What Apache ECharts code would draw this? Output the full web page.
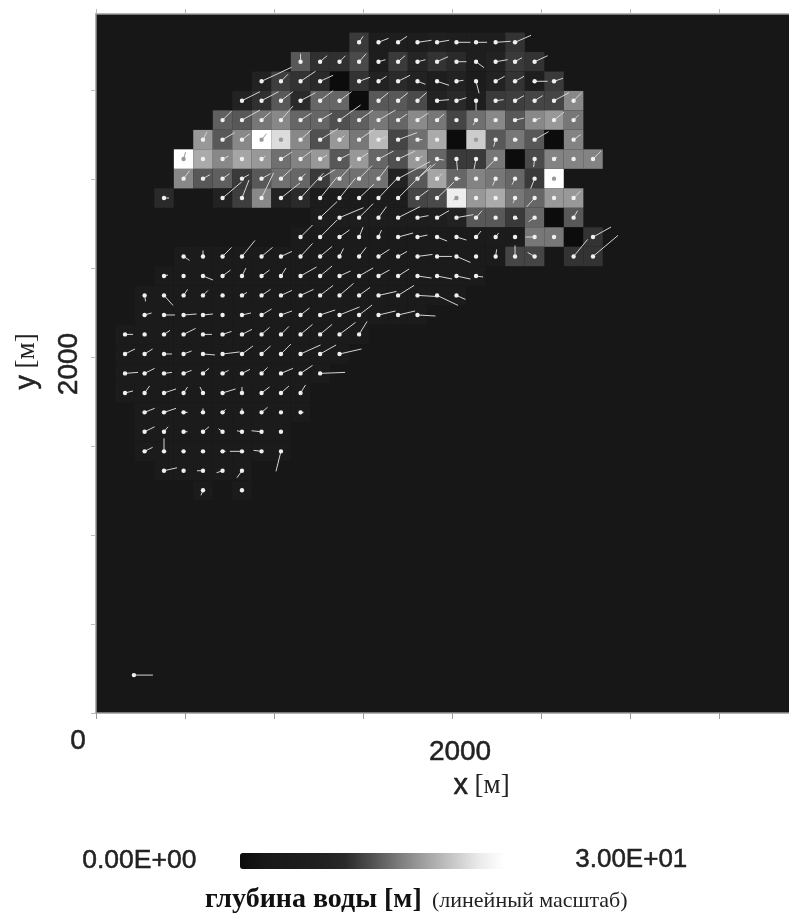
<!DOCTYPE html>
<html><head><meta charset="utf-8">
<style>html,body{margin:0;padding:0;background:#fff}#c{width:789px;height:913px;filter:blur(0.45px)}</style>
<script src="https://cdn.jsdelivr.net/npm/echarts@6/dist/echarts.min.js"></script>
</head><body><div id="c"></div>
<script>
const columnX=[163,273,382,492,601,711,820,930,1039,1149,1259,1368,1478,1587,1697,1806,1916,2025,2135,2245,2354,2464,2573,2683,2792];
const rowY=[3768,3659,3549,3440,3331,3221,3112,3002,2893,2783,2674,2565,2455,2346,2236,2127,2017,1908,1798,1689,1580,1470,1361,1251];
const firstColumn=[12,9,7,6,5,4,3,3,2,10,9,3,2,1,1,0,0,0,0,1,1,1,2,4];
const depthRows=[
[13.3,7,8,7,9,8,8,8,12.7],
[15.6,12.5,12.5,14.5,7,13.3,10.5,12.7,12,7.5,9.6,13.3,12.7],
[9.6,13.6,12.7,12,0,12.7,9.6,12,9.6,7.5,9.6,6.5,9.6,12.7,7.5,13.3],
[9.6,12.5,15.6,12,16.6,16.6,0,15.6,15.6,14.5,9.6,12,7.5,13.3,13.6,14.1,14.1,19.1],
[16.1,15.6,17.8,19.1,16.6,16.6,15,16.1,17.8,16.6,19.3,17.8,14.1,17.3,19.1,15.6,19.1,20.4,17.8],
[20.4,15.6,19.1,30,26,19.1,15,20.4,17.8,23.1,14.1,17.3,21.8,0,24.7,15.6,17.8,15.6,0,18.7],
[30,21.8,19.1,21.4,20.4,17.3,18.7,20.4,15.6,20.4,16.6,15,20.4,16.6,13.3,13.3,17.8,0,14.5,18.7,18.7,18.7],
[19.1,15.6,16.1,13.3,15.6,17.3,16.6,13.3,17.3,17.3,17.3,9.6,15.6,21.4,16.6,18.7,17.8,16.6,13.3,30],
[12,null,null,9.6,13.6,19.1,9.6,12,6.5,6.5,6.5,6.5,6.5,14.1,14.5,27.8,20.4,21.8,17.8,16.6,20.4,20.4],
[7,7,7,7,7,7,7.5,9.6,15.6,15.6,13.3,16.6,0,15.6],
[6,6,6,6,6,6,6,6,6,6,6.5,6.5,17.8,17.8,0,12.7],
[6,6,6,6,6,6,6,6,6,6,6,6,6,6,6,6,6,14.1,14.1,null,12.7,12.7],
[6,6,6,6,6,6,6,6,6,6,6,6,6,6,6,6,6],
[6,6,6,6,6,6,6,6,6,6,6,6,6,6,6,6,6],
[6,6,6,6,6,6,6,6,6,6,6,6,6,6,6],
[6,6,6,6,6,6,6,6,6,6,6,6,6],
[6,6,6,6,6,6,6,6,6,6,6,6],
[6,6,6,6,6,6,6,6,6,6,6],
[6,6,6,6,6,6,6,6,6,6],
[6,6,6,6,6,6,6,6,6],
[6,6,6,6,6,6,6,6],
[6,6,6,6,6,6,6,6],
[6,6,6,6,6],
[6,null,6]
];
const uRows=[
[4,10,9,14,12,14,11,15,16],
[0,7,6,7,7,7,8,11,10,8,12,7,13],
[30,7,15,13,null,11,8,12,8,12,7,3,9,9,13,9],
[18,17,12,15,13,12,null,10,10,9,12,10,0,8,9,8,15,8],
[9,18,9,12,11,12,21,14,17,9,11,7,0,-3,0,9,6,10,5],
[4,12,8,5,1,11,18,5,16,8,19,5,0,null,1,-2,3,14,null,7],
[2,1,6,1,4,11,11,7,10,9,15,17,5,7,1,-2,-10,null,-1,3,0,8],
[6,7,7,7,9,11,5,15,12,13,10,32,18,5,4,0,-3,-3,-4,0],
[5,null,null,19,7,12,19,23,17,16,15,19,33,11,17,-3,0,0,-2,-8,0,7],
[17,24,14,8,22,11,12,17,6,0,3,-6,null,4],
[12,17,10,4,3,15,10,10,10,5,3,0,-9,0,null,18],
[6,0,9,13,11,11,12,12,4,7,11,9,15,15,14,0,1,0,-7,null,14,25],
[4,0,10,8,4,8,5,16,12,11,14,11,11,14,15,14,7],
[1,9,4,5,0,5,9,11,13,13,14,11,18,16,18,21,9],
[7,11,13,10,0,9,10,11,9,15,20,13,17,17,18],
[8,0,6,12,9,9,10,8,8,12,12,16,8],
[10,8,8,8,12,17,11,9,10,20,16,22],
[13,10,8,8,6,6,8,6,12,12,25],
[8,5,12,4,-3,13,0,8,8,5],
[10,12,4,0,3,0,6,0,3],
[10,4,4,6,-4,-5,-10,0],
[8,0,0,0,3,-12,-8,-5],
[13,0,-6,-6,-5],
[-2,null,0]
];
const vRows=[
[6,4,6,2,2,0,0,1,7],
[8,6,6,8,2,6,2,5,0,-6,2,4,6],
[14,7,10,6,null,4,5,6,-3,-4,1,-12,5,5,0,3],
[9,9,9,8,10,9,null,8,8,8,1,3,-10,1,5,5,8,8],
[9,10,8,14,7,7,15,10,10,6,7,6,0,-5,0,2,2,8,5],
[8,7,6,6,1,10,11,4,11,3,7,0,0,null,1,-7,0,8,null,5],
[7,0,3,0,3,7,8,4,5,6,8,8,3,-1,-11,-10,-10,null,-8,2,0,8],
[8,4,5,4,5,10,5,9,13,13,13,17,15,5,0,0,-7,-6,-10,0],
[0,null,null,16,18,25,15,25,21,20,14,20,33,8,16,-2,0,0,-5,-9,0,7],
[16,10,14,11,11,2,7,3,7,0,-1,-4,null,7],
[12,17,7,10,7,4,2,-4,-3,6,4,0,0,0,null,10],
[-4,6,9,16,9,5,13,10,8,9,7,5,2,0,-6,0,7,11,4,null,17,21],
[1,0,-4,6,8,6,8,9,10,5,8,6,7,-2,-3,-3,-1],
[-6,-10,6,5,0,3,6,5,6,10,12,8,4,10,-1,-10,-4],
[2,0,1,1,0,2,6,4,7,5,8,10,4,4,-1],
[0,0,4,6,0,3,5,7,8,10,10,12,13],
[5,5,0,3,-1,2,8,8,10,9,9,5],
[1,5,1,3,5,3,4,6,5,8,1],
[2,7,4,6,6,4,6,6,7,8],
[4,4,0,4,3,4,5,0,0],
[5,5,0,5,3,1,1,0],
[4,13,0,0,0,0,1,-20],
[3,0,0,-2,-7],
[-5,null,0]
];
const referenceVector=[213,213,19,0];
const xTickValues=[0,500,1000,1500,2000,2500,3000,3500];
const yTickValues=[0,500,1000,1500,2000,2500,3000,3500];
const xLabelValues=[0,2000];
const yLabelValues=[2000];
const depthScale=['#0c0c0c','#181818','#1b1b1b','#202020','#2a2a2a','#505050','#7a7a7a','#a0a0a0','#c4c4c4','#e8e8e8','#ffffff'];
const cellSize=109.5, metresPerUnit=5.62;

const cells=[], vectors=[[...referenceVector,0]];
depthRows.forEach((row,r)=>row.forEach((d,i)=>{
  if(d===null) return;
  const x=columnX[firstColumn[r]+i], y=rowY[r];
  cells.push([x,y,d]);
  const u=uRows[r][i], v=vRows[r][i];
  if(u!==null) vectors.push([x,y,u,v,d]);
}));

const chart=echarts.init(document.getElementById('c'),null,{renderer:'canvas'});
const axisGray='#9a9a9a';
const sans='"Liberation Sans",Arial,sans-serif', serif='"Liberation Serif",serif';
const ink={color:'#222',textBorderColor:'#222',textBorderWidth:0.5};
chart.setOption({
  animation:false,
  backgroundColor:'#ffffff',
  grid:{left:96,top:14,width:693,height:699,show:true,backgroundColor:'#171717',borderWidth:0},
  xAxis:[{
    type:'value',position:'bottom',min:0,max:3893,interval:500,
    splitLine:{show:false},
    axisLine:{lineStyle:{color:axisGray,width:1.5}},
    axisTick:{length:6,customValues:xTickValues,lineStyle:{color:axisGray}},
    axisLabel:{customValues:xLabelValues,margin:14,
      formatter:v=>v===0?'{zero|0}':'{main|2000}',
      rich:{zero:{fontFamily:sans,fontSize:28,...ink,padding:[0,36,0,0]},
            main:{fontFamily:sans,fontSize:28,...ink,padding:[11,0,0,16]}}},
    name:'{a|x}  {b|[м]}',nameLocation:'middle',nameGap:56,
    nameTextStyle:{padding:[0,0,0,78],rich:{a:{fontFamily:sans,fontSize:29,...ink},b:{fontFamily:serif,fontSize:27,color:'#222'}}}
  },{
    type:'value',position:'top',min:0,max:3893,interval:500,
    splitLine:{show:false},axisLabel:{show:false},
    axisLine:{lineStyle:{color:axisGray,width:1.5}},
    axisTick:{length:5,customValues:xTickValues,lineStyle:{color:'#bbbbbb'}}
  }],
  yAxis:{
    type:'value',min:0,max:3927,interval:500,
    splitLine:{show:false},
    axisLine:{lineStyle:{color:axisGray,width:1.5}},
    axisTick:{length:5,customValues:yTickValues,lineStyle:{color:'#bbbbbb'}},
    axisLabel:{customValues:yLabelValues,rotate:90,margin:13,formatter:v=>'{main|'+v+'}',
      rich:{main:{fontFamily:sans,fontSize:28,...ink,padding:[0,14,0,0]}}},
    name:'{a|y}  {b|[м]}',nameLocation:'middle',nameGap:55,
    nameTextStyle:{padding:[0,0,0,4],rich:{a:{fontFamily:sans,fontSize:29,...ink},b:{fontFamily:serif,fontSize:27,color:'#222'}}}
  },
  visualMap:{
    type:'continuous',seriesIndex:0,dimension:2,min:0,max:30,calculable:false,hoverLink:false,
    orient:'horizontal',left:225,top:838,itemWidth:16,itemHeight:263,
    text:null,showLabel:false,borderRadius:0,itemStyle:{borderRadius:0},
    inRange:{color:depthScale}
  },
  graphic:[
    {type:'text',left:82,top:847,style:{text:'0.00E+00',fontFamily:sans,fontSize:26.5,fill:'#222',stroke:'#222',lineWidth:0.5}},
    {type:'text',left:575,top:847,style:{text:'3.00E+01',fontFamily:sans,fontSize:26,fill:'#222',stroke:'#222',lineWidth:0.5}},
    {type:'text',left:205,top:886,style:{text:'глубина воды [м]',fontFamily:serif,fontWeight:'bold',fontSize:28,fill:'#111'}},
    {type:'text',left:432,top:890,style:{text:'(линейный масштаб)',fontFamily:serif,fontSize:22,fill:'#222'}}
  ],
  series:[{
    type:'custom',coordinateSystem:'cartesian2d',clip:true,silent:true,
    data:cells,encode:{x:0,y:1},
    renderItem(params,api){
      const p=api.coord([api.value(0),api.value(1)]), s=api.size([cellSize,cellSize]);
      return {type:'rect',shape:{x:p[0]-s[0]/2,y:p[1]-s[1]/2,width:s[0],height:s[1]},style:{fill:api.visual('color')}};
    }
  },{
    type:'custom',coordinateSystem:'cartesian2d',clip:true,silent:true,
    data:vectors,encode:{x:0,y:1},
    renderItem(params,api){
      const x=api.value(0),y=api.value(1),u=api.value(2),v=api.value(3),d=api.value(4);
      const a=api.coord([x,y]), b=api.coord([x+u*metresPerUnit,y+v*metresPerUnit]);
      const c=d>=24?'#9a9a9a':'#d4d4d4';
      return {type:'group',children:[
        {type:'line',shape:{x1:a[0],y1:a[1],x2:b[0],y2:b[1]},style:{stroke:c,lineWidth:1}},
        {type:'circle',shape:{cx:a[0],cy:a[1],r:2.2},style:{fill:d>=24?'#999999':'#f0f0f0'}}
      ]};
    }
  }]
});
</script></body></html>
